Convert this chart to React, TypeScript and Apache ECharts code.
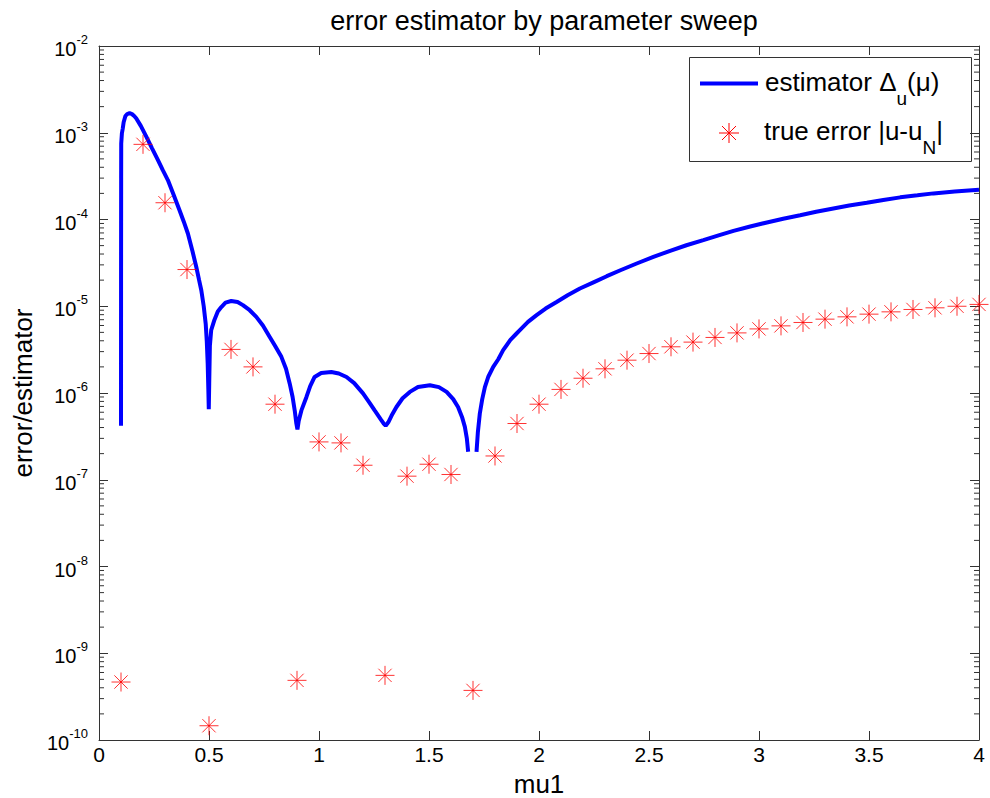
import React, { useEffect, useRef } from 'react';
import * as echarts from 'echarts';

const FONT = '"Liberation Sans", Arial, Helvetica, sans-serif';
const AXIS = '#333333';

// x ticks / y decades
const xMin = 0;
const xMax = 4;
const xInterval = 0.5;
const yDecades = [-10, -9, -8, -7, -6, -5, -4, -3, -2];

// estimator Δu(μ), left piece (before the gap near mu=1.7)
const estLeftMu = [
  0.1, 0.1003, 0.1007, 0.101, 0.104, 0.108, 0.112, 0.12, 0.128, 0.139, 0.15, 0.16, 0.169, 0.19,
  0.215, 0.24, 0.268, 0.29, 0.313, 0.34, 0.366, 0.385, 0.404, 0.425, 0.442, 0.455, 0.465, 0.476,
  0.485, 0.49, 0.494, 0.497, 0.499, 0.501, 0.504, 0.51, 0.525, 0.54, 0.556, 0.575, 0.601, 0.63,
  0.654, 0.685, 0.715, 0.745, 0.776, 0.8, 0.829, 0.85, 0.867, 0.88, 0.89, 0.897, 0.902, 0.908,
  0.92, 0.943, 0.96, 0.98, 1.01, 1.056, 1.09, 1.125, 1.16, 1.2, 1.23, 1.253, 1.28, 1.295, 1.303,
  1.315, 1.33, 1.352, 1.38, 1.413, 1.45, 1.504, 1.545, 1.58, 1.61, 1.632, 1.65, 1.663, 1.672, 1.678,
];
const estLeftVal = [
  4.2e-7, 2e-5, 3e-4, 7.5e-4, 9.8e-4, 1.12e-3, 1.32e-3, 1.56e-3, 1.64e-3, 1.68e-3, 1.64e-3, 1.56e-3,
  1.47e-3, 1.2e-3, 9.0e-4, 6.7e-4, 4.84e-4, 3.7e-4, 2.85e-4, 1.9e-4, 1.28e-4, 9.5e-5, 6.9e-5,
  4.3e-5, 2.85e-5, 2.0e-5, 1.53e-5, 1.0e-5, 6.3e-6, 3.9e-6, 2.2e-6, 1.1e-6, 6.5e-7, 1.3e-6, 3.5e-6,
  5.3e-6, 7.0e-6, 8.7e-6, 9.8e-6, 1.1e-5, 1.15e-5, 1.12e-5, 1.03e-5, 9.0e-6, 7.55e-6, 6.0e-6,
  4.43e-6, 3.5e-6, 2.61e-6, 1.9e-6, 1.28e-6, 9.0e-7, 6.2e-7, 4.45e-7, 3.8e-7, 4.8e-7, 6.3e-7,
  9.0e-7, 1.2e-6, 1.53e-6, 1.7e-6, 1.75e-6, 1.68e-6, 1.53e-6, 1.3e-6, 9.9e-7, 7.7e-7, 6.3e-7,
  5.0e-7, 4.4e-7, 4.2e-7, 4.6e-7, 5.5e-7, 6.9e-7, 8.7e-7, 1.03e-6, 1.17e-6, 1.23e-6, 1.17e-6,
  1.03e-6, 8.5e-7, 6.9e-7, 5.3e-7, 4.07e-7, 3.0e-7, 2.1e-7,
];
// estimator, right piece (after the gap)
const estRightMu = [
  1.716, 1.722, 1.731, 1.742, 1.754, 1.77, 1.792, 1.815, 1.837, 1.87, 1.898, 1.913, 1.95, 1.989,
  2.03, 2.08, 2.13, 2.186, 2.25, 2.308, 2.37, 2.444, 2.52, 2.596, 2.67, 2.747, 2.82, 2.884, 2.96,
  3.036, 3.11, 3.187, 3.26, 3.338, 3.41, 3.49, 3.565, 3.642, 3.72, 3.793, 3.89, 4.0,
];
const estRightVal = [
  2.1e-7, 3.5e-7, 5.8e-7, 8.5e-7, 1.17e-6, 1.55e-6, 2.0e-6, 2.45e-6, 3.12e-6, 4.1e-6, 4.85e-6,
  5.3e-6, 6.6e-6, 7.9e-6, 9.4e-6, 1.12e-5, 1.34e-5, 1.6e-5, 1.9e-5, 2.22e-5, 2.6e-5, 3.11e-5,
  3.7e-5, 4.36e-5, 5.05e-5, 5.78e-5, 6.6e-5, 7.4e-5, 8.3e-5, 9.25e-5, 1.02e-4, 1.12e-4, 1.23e-4,
  1.34e-4, 1.45e-4, 1.56e-4, 1.68e-4, 1.8e-4, 1.9e-4, 2.0e-4, 2.1e-4, 2.2e-4,
];

// true error |u-u_N|
const errorMu = [
  0.1, 0.2, 0.3, 0.4, 0.5, 0.6, 0.7, 0.8, 0.9, 1.0, 1.1, 1.2, 1.3, 1.4, 1.5, 1.6, 1.7, 1.8, 1.9, 2.0,
  2.1, 2.2, 2.3, 2.4, 2.5, 2.6, 2.7, 2.8, 2.9, 3.0, 3.1, 3.2, 3.3, 3.4, 3.5, 3.6, 3.7, 3.8, 3.9, 4.0,
];
const errorVal = [
  4.66e-10, 7.35e-4, 1.56e-4, 2.65e-5, 1.46e-10, 3.18e-6, 2.0e-6, 7.43e-7, 4.87e-10, 2.73e-7,
  2.66e-7, 1.47e-7, 5.56e-10, 1.1e-7, 1.51e-7, 1.15e-7, 3.73e-10, 1.88e-7, 4.45e-7, 7.43e-7,
  1.1e-6, 1.48e-6, 1.9e-6, 2.39e-6, 2.85e-6, 3.41e-6, 3.86e-6, 4.37e-6, 4.93e-6, 5.48e-6, 5.94e-6,
  6.5e-6, 7.1e-6, 7.55e-6, 8.11e-6, 8.62e-6, 9.18e-6, 9.59e-6, 1.0e-5, 1.05e-5,
];

const minorMantissas = [2, 3, 4, 5, 6, 7, 8, 9];

const STAR = 'path://M10,0L10,20M0,10L20,10M3,3L17,17M3,17L17,3';

export default function App() {
  const ref = useRef<HTMLDivElement>(null);

  useEffect(() => {
    if (!ref.current) return;
    const chart = echarts.init(ref.current, null, { renderer: 'svg' });

    const estData: any[] = [];
    estLeftMu.forEach((m, i) => estData.push([m, estLeftVal[i]]));
    estData.push([1.697, '-']);
    estRightMu.forEach((m, i) => estData.push([m, estRightVal[i]]));

    const errData = errorMu.map((m, i) => [m, errorVal[i]]);

    const minorTicks: number[][] = [];
    yDecades.slice(0, -1).forEach((e) => {
      minorMantissas.forEach((k) => minorTicks.push([xMin, k * Math.pow(10, e)]));
    });

    const yMin = Math.pow(10, yDecades[0]);
    const yMax = Math.pow(10, yDecades[yDecades.length - 1]);

    const yLabel = {
      show: true,
      margin: 11,
      formatter: (v: number) => `{b|10}{s|${Math.round(Math.log10(v))}}`,
      rich: {
        b: { fontSize: 20, lineHeight: 26, verticalAlign: 'bottom', fontFamily: FONT, color: '#000' },
        s: { fontSize: 13, lineHeight: 13, verticalAlign: 'top', fontFamily: FONT, color: '#000' },
      },
    };

    const baseX = {
      type: 'value',
      min: xMin,
      max: xMax,
      interval: xInterval,
      axisLine: { show: true, onZero: false, lineStyle: { color: AXIS, width: 1 } },
      axisTick: { show: true, inside: true, length: 9, lineStyle: { color: AXIS, width: 1 } },
      splitLine: { show: false },
    };
    const baseY = {
      type: 'log',
      logBase: 10,
      min: yMin,
      max: yMax,
      splitNumber: 8,
      axisLine: { show: true, onZero: false, lineStyle: { color: AXIS, width: 1 } },
      axisTick: { show: true, inside: true, length: 9, lineStyle: { color: AXIS, width: 1 } },
      splitLine: { show: false },
    };

    const tickLine = (x1: number, y: number, x2: number) => ({
      type: 'line',
      shape: { x1, y1: y, x2, y2: y },
      style: { stroke: AXIS, lineWidth: 1 },
    });

    const starLines = (cx: number, cy: number, r: number, d: number) => [
      { type: 'line', shape: { x1: cx, y1: cy - r, x2: cx, y2: cy + r }, style: { stroke: '#ff0000', lineWidth: 1 } },
      { type: 'line', shape: { x1: cx - r, y1: cy, x2: cx + r, y2: cy }, style: { stroke: '#ff0000', lineWidth: 1 } },
      { type: 'line', shape: { x1: cx - d, y1: cy - d, x2: cx + d, y2: cy + d }, style: { stroke: '#ff0000', lineWidth: 1 } },
      { type: 'line', shape: { x1: cx - d, y1: cy + d, x2: cx + d, y2: cy - d }, style: { stroke: '#ff0000', lineWidth: 1 } },
    ];

    const legendRich = {
      t: { fontSize: 26, lineHeight: 26, verticalAlign: 'top', fontFamily: FONT, fill: '#000', color: '#000' },
      s: { fontSize: 19, lineHeight: 19, padding: [20, 0, 0, 0], verticalAlign: 'top', fontFamily: FONT, fill: '#000', color: '#000' },
    };

    chart.setOption({
      animation: false,
      backgroundColor: '#ffffff',
      textStyle: { fontFamily: FONT },
      title: {
        text: 'error estimator by parameter sweep',
        left: 539,
        top: 2,
        textAlign: 'center',
        textStyle: { fontSize: 27, fontWeight: 'normal', fontFamily: FONT, color: '#000' },
      },
      grid: { left: 99, right: 11, top: 46, bottom: 58, containLabel: false, outerBoundsMode: 'none' },
      xAxis: [
        {
          ...baseX,
          position: 'bottom',
          name: 'mu1',
          nameLocation: 'middle',
          nameGap: 31,
          nameTextStyle: { fontSize: 26, color: '#000', fontFamily: FONT },
          axisLabel: { show: true, margin: 4, fontSize: 21, color: '#000', fontFamily: FONT },
        },
        { ...baseX, position: 'top', axisLabel: { show: false } },
      ],
      yAxis: [
        {
          ...baseY,
          position: 'left',
          name: 'error/estimator',
          nameLocation: 'middle',
          nameRotate: 90,
          nameGap: 60,
          nameTextStyle: { fontSize: 26, color: '#000', fontFamily: FONT },
          axisLabel: yLabel,
        },
        { ...baseY, position: 'right', axisLabel: { show: false } },
      ],
      series: [
        {
          type: 'custom',
          name: 'minor ticks',
          xAxisIndex: 0,
          yAxisIndex: 0,
          silent: true,
          clip: false,
          data: minorTicks,
          renderItem: (params: any, api: any) => {
            const v = api.value(1);
            const l = api.coord([xMin, v]);
            const r = api.coord([xMax, v]);
            return {
              type: 'group',
              children: [tickLine(l[0], l[1], l[0] + 5), tickLine(r[0], r[1], r[0] - 5)],
            };
          },
          z: 2,
        },
        {
          type: 'line',
          name: 'estimator',
          xAxisIndex: 0,
          yAxisIndex: 0,
          data: estData,
          symbol: 'none',
          showSymbol: false,
          connectNulls: false,
          smooth: false,
          lineStyle: { color: '#0000ff', width: 4 },
          itemStyle: { color: '#0000ff' },
          emphasis: { disabled: true },
          silent: true,
          z: 3,
        },
        {
          type: 'scatter',
          name: 'true error',
          xAxisIndex: 0,
          yAxisIndex: 0,
          data: errData,
          symbol: STAR,
          symbolSize: 19,
          itemStyle: { color: 'rgba(0,0,0,0)', borderColor: '#ff0000', borderWidth: 1 },
          emphasis: { disabled: true },
          silent: true,
          z: 4,
        },
      ],
      graphic: [
        {
          type: 'group',
          silent: true,
          z: 100,
          children: [
            {
              type: 'rect',
              shape: { x: 689.5, y: 57.5, width: 282, height: 104 },
              style: { fill: '#ffffff', stroke: AXIS, lineWidth: 1 },
            },
            {
              type: 'line',
              shape: { x1: 700, y1: 83.5, x2: 758, y2: 83.5 },
              style: { stroke: '#0000ff', lineWidth: 4 },
            },
            ...starLines(729, 133, 10, 7),
            {
              type: 'text',
              style: {
                x: 765,
                y: 69,
                verticalAlign: 'top',
                align: 'left',
                text: '{t|estimator Δ}{s|u}{t|(μ)}',
                rich: legendRich,
                fontFamily: FONT,
                fontSize: 26,
                fill: '#000',
              },
            },
            {
              type: 'text',
              style: {
                x: 764,
                y: 118,
                verticalAlign: 'top',
                align: 'left',
                text: '{t|true error |u-u}{s|N}{t||}',
                rich: legendRich,
                fontFamily: FONT,
                fontSize: 26,
                fill: '#000',
              },
            },
          ],
        },
      ],
    });

    return () => chart.dispose();
  }, []);

  return (
    <div
      ref={ref}
      style={{ position: 'fixed', left: 0, top: 0, width: 990, height: 798, background: '#fff' }}
    />
  );
}
